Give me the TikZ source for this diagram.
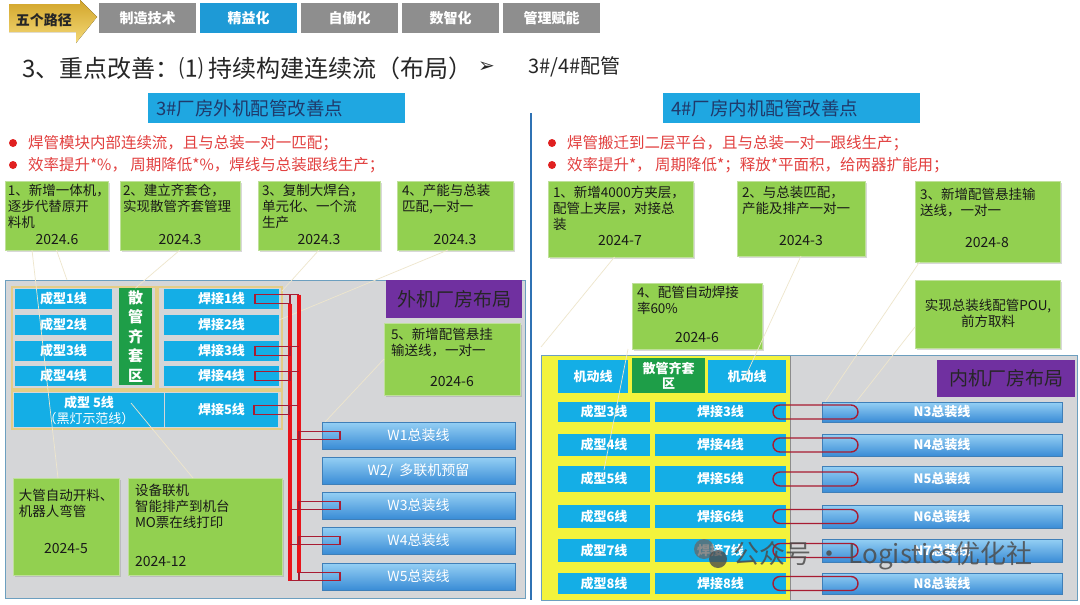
\documentclass[tikz,border=0pt]{standalone}
\usepackage{fontspec}
\setmainfont{Noto Sans CJK SC}
\newfontfamily\dejavu{DejaVu Sans}
\usetikzlibrary{shadows}
\definecolor{tabgray}{HTML}{8E8E8E}
\definecolor{tabblue}{HTML}{1E9AD6}
\definecolor{goldA}{HTML}{D2A52A}
\definecolor{goldB}{HTML}{F4D977}
\definecolor{hdrblue}{HTML}{1FA7E1}
\definecolor{hdrtext}{HTML}{1F3A6B}
\definecolor{bulred}{HTML}{E02020}
\definecolor{bultext}{HTML}{E2403F}
\definecolor{boxgreen}{HTML}{92D050}
\definecolor{greenedge}{HTML}{BFE09A}
\definecolor{framegray}{HTML}{D5D6D8}
\definecolor{frameedge}{HTML}{6C9FBF}
\definecolor{linecyan}{HTML}{14AEE6}
\definecolor{tanc}{HTML}{E4CD86}
\definecolor{sangreen}{HTML}{1E9E48}
\definecolor{purp}{HTML}{7030A0}
\definecolor{wtop}{HTML}{95D0F4}
\definecolor{wbot}{HTML}{3A8CD6}
\definecolor{wedge}{HTML}{3F7FB8}
\definecolor{ybg}{HTML}{F3F33C}
\definecolor{divider}{HTML}{2F72B4}
\definecolor{redline}{HTML}{E8141B}
\definecolor{loopred}{HTML}{A81C32}
\definecolor{callc}{HTML}{EEE6CC}
\definecolor{titlec}{HTML}{262626}
\begin{document}
\begin{tikzpicture}[x=1pt,y=-1pt,
  every node/.style={inner sep=0pt,outer sep=0pt},
  tab/.style={fill=tabgray, text=white, font=\fontsize{14}{14}\selectfont\bfseries, anchor=north west, minimum height=30pt, minimum width=97pt},
  hdr/.style={fill=hdrblue, anchor=north west, minimum height=30pt, minimum width=257pt},
  hdrtxt/.style={text=hdrtext, font=\fontsize{18.5}{18.5}\selectfont, anchor=west},
  bul/.style={circle, fill=bulred, minimum size=8pt},
  bultxt/.style={text=bultext, font=\fontsize{15.5}{15.5}\selectfont, anchor=west},
  gbox/.style={fill=boxgreen, draw=greenedge, line width=0.6pt, anchor=north west, drop shadow={opacity=0.3, shadow xshift=1.5pt, shadow yshift=-1.5pt}},
  gtxt/.style={font=\fontsize{13.5}{16}\selectfont, align=left, anchor=north west, text=black!90},
  gdate/.style={font=\fontsize{14}{14}\selectfont, text=black!90},
  lbox/.style={fill=linecyan, anchor=north west, text=white, font=\fontsize{13}{16}\selectfont\bfseries},
  wbox/.style={top color=wtop, bottom color=wbot, draw=wedge, line width=0.5pt, anchor=north west, text=white, font=\fontsize{14}{14}\selectfont},
  pbox/.style={fill=purp, anchor=north west, font=\fontsize{19}{19}\selectfont, text=black!85},
  callout/.style={draw=callc, line width=0.7pt},
  pipe/.style={draw=redline, line width=3.4pt},
  loopr/.style={draw=loopred, line width=1.9pt},
  paperclip/.style={draw=loopred, line width=1.4pt, rounded corners=7pt}
]
\useasboundingbox[fill=white] (0,0) rectangle (1080,605);

% ---------- top bar
\fill[top color=goldA, bottom color=goldB] (9,4) -- (80,4) -- (80,0) -- (97,17) -- (76,43) -- (76,32) -- (9,32) -- cycle;
\node[font=\fontsize{14}{14}\selectfont\bfseries, text=black!85] (gold) at (44,20) {五个路径};
\node[tab] (t1) at (99,3) {制造技术};
\node[tab, fill=tabblue] (t2) at (200,3) {精益化};
\node[tab] (t3) at (301,3) {自働化};
\node[tab] (t4) at (402,3) {数智化};
\node[tab] (t5) at (503,3) {管理赋能};

% ---------- title
\node[anchor=west, font=\fontsize{24}{24}\selectfont, text=titlec] (title) at (22,68) {3、重点改善：⑴ 持续构建连续流（布局）};
\node[anchor=west, font=\dejavu\fontsize{20}{20}\selectfont, text=titlec] (arrowmk) at (478,67) {➢};
\node[anchor=west, font=\fontsize{20}{20}\selectfont, text=titlec] (title2) at (528,67) {3\#/4\#配管};

% ---------- divider
\draw[divider, line width=2pt] (531,113) -- (531,600);

% ---------- headers
\node[hdr] (headL) at (148,93) {};
\node[hdrtxt] (headLt) at (156,108) {3\#厂房外机配管改善点};
\node[hdr] (headR) at (663,93) {};
\node[hdrtxt] (headRt) at (671,108) {4\#厂房内机配管改善点};

% ---------- bullets
\node[bul] (bL1) at (13,143) {};
\node[bultxt] (bL1t) at (28,143) {焊管模块内部连续流，且与总装一对一匹配；};
\node[bul] (bL2) at (13,165) {};
\node[bultxt] (bL2t) at (28,165) {效率提升*\%， 周期降低*\%，焊线与总装跟线生产；};
\node[bul] (bR1) at (552,143) {};
\node[bultxt] (bR1t) at (567,143) {焊管搬迁到二层平台，且与总装一对一跟线生产；};
\node[bul] (bR2) at (552,165) {};
\node[bultxt] (bR2t) at (567,165) {效率提升*， 周期降低*；释放*平面积，给两器扩能用；};

% ---------- green boxes, upper row
\node[gbox, minimum width=103pt, minimum height=69pt] (gL1) at (5,181) {};
\node[gtxt] (gL1t) at (8,184) {1、新增一体机，\\逐步代替原开\\料机};
\node[gdate] (gL1d) at (57,240) {2024.6};
\node[gbox, minimum width=120pt, minimum height=69pt] (gL2) at (120,181) {};
\node[gtxt] (gL2t) at (123,184) {2、建立齐套仓，\\实现散管齐套管理};
\node[gdate] (gL2d) at (180,240) {2024.3};
\node[gbox, minimum width=122pt, minimum height=69pt] (gL3) at (258,181) {};
\node[gtxt] (gL3t) at (262,184) {3、复制大焊台，\\单元化、一个流\\生产};
\node[gdate] (gL3d) at (319,240) {2024.3};
\node[gbox, minimum width=116pt, minimum height=69pt] (gL4) at (397,181) {};
\node[gtxt] (gL4t) at (402,184) {4、产能与总装\\匹配,一对一};
\node[gdate] (gL4d) at (455,240) {2024.3};

\node[gbox, minimum width=145pt, minimum height=76pt] (gR1) at (548,181) {};
\node[gtxt] (gR1t) at (553,186) {1、新增4000方夹层，\\配管上夹层，对接总\\装};
\node[gdate] (gR1d) at (620,241) {2024-7};
\node[gbox, minimum width=128pt, minimum height=75pt] (gR2) at (737,181) {};
\node[gtxt] (gR2t) at (742,186) {2、与总装匹配，\\产能及排产一对一};
\node[gdate] (gR2d) at (801,241) {2024-3};
\node[gbox, minimum width=145pt, minimum height=81pt] (gR3) at (915,181) {};
\node[gtxt] (gR3t) at (920,188) {3、新增配管悬挂输\\送线，一对一};
\node[gdate] (gR3d) at (987,243) {2024-8};

% ---------- left layout
\node[fill=framegray, draw=frameedge, line width=0.8pt, anchor=north west, minimum width=520pt, minimum height=318pt] (fL) at (5,280) {};
\draw[tanc, line width=2pt] (12,287) rectangle (156,389);
\draw[tanc, line width=2pt] (158,287) rectangle (282,389);
\draw[tanc, line width=2pt] (12,391) rectangle (282,429);
\foreach \i/\y in {1/289,2/315,3/341,4/366} {
  \node[lbox, minimum width=97pt, minimum height=20pt] (cL\i) at (15,\y) {成型\i 线};
  \node[lbox, minimum width=115pt, minimum height=20pt] (hL\i) at (164,\y) {焊接\i 线};
}
\node[fill=sangreen, anchor=north west, minimum width=33pt, minimum height=97pt, text=white, font=\fontsize{15}{19.5}\selectfont\bfseries, align=center] (sanL) at (119,288) {散\\管\\齐\\套\\区};
\node[lbox, minimum width=150pt, minimum height=34pt, align=center] (cL5) at (14,393) {成型 5线\\{\mdseries（黑灯示范线）}};
\node[lbox, minimum width=113pt, minimum height=34pt] (hL5) at (165,393) {焊接5线};
\node[pbox, minimum width=136pt, minimum height=38pt] (pL) at (386,280) {外机厂房布局};
\node[gbox, minimum width=136pt, minimum height=72pt] (gL5) at (384,323) {};
\node[gtxt] (gL5t) at (391,328) {5、新增配管悬挂\\输送线，一对一};
\node[gdate] (gL5d) at (452,382) {2024-6};
\node[wbox, minimum width=193pt, minimum height=27pt] (w1) at (322,422) {W1总装线};
\node[wbox, minimum width=193pt, minimum height=27pt] (w2) at (322,457) {W2/\ \ 多联机预留};
\node[wbox, minimum width=193pt, minimum height=27pt] (w3) at (322,492) {W3总装线};
\node[wbox, minimum width=193pt, minimum height=27pt] (w4) at (322,527) {W4总装线};
\node[wbox, minimum width=193pt, minimum height=27pt] (w5) at (322,563) {W5总装线};
\node[gbox, minimum width=106pt, minimum height=97pt] (gL6) at (13,478) {};
\node[gtxt] (gL6t) at (19,489) {大管自动开料、\\机器人弯管};
\node[gdate] (gL6d) at (66,549) {2024-5};
\node[gbox, minimum width=154pt, minimum height=97pt] (gL7) at (128,478) {};
\node[gtxt] (gL7t) at (135,484) {设备联机\\智能排产到机台\\MO票在线打印};
\node[gdate, anchor=west] (gL7d) at (135,562) {2024-12};

% ---------- right layout
\node[anchor=north west, minimum width=536pt, minimum height=245pt] (fR) at (541,355) {};
\fill[ybg] (fR.north west) rectangle ([xshift=249pt]fR.south west);
\fill[framegray] ([xshift=249pt]fR.north west) rectangle (fR.south east);
\draw[black!45, line width=0.6pt] ([xshift=249pt]fR.north west) -- ([xshift=249pt]fR.south west);
\draw[frameedge, line width=0.8pt] (fR.north west) rectangle (fR.south east);
\node[gbox, minimum width=130pt, minimum height=66pt] (gR4) at (632,283) {};
\node[gtxt] (gR4t) at (637,286) {4、配管自动焊接\\率60\%};
\node[gdate] (gR4d) at (697,338) {2024-6};
\node[gbox, minimum width=145pt, minimum height=68pt] (gR5) at (915,280) {};
\node[gtxt, align=center, anchor=center] (gR5t) at (988,313) {实现总装线配管POU,\\前方取料};
\node[lbox, minimum width=70pt, minimum height=33pt] (jd1) at (558,360) {机动线};
\node[fill=sangreen, anchor=north west, minimum width=73pt, minimum height=35pt, text=white, font=\fontsize{13}{15}\selectfont\bfseries, align=center] (sanR) at (632,358) {散管齐套\\区};
\node[lbox, minimum width=78pt, minimum height=33pt] (jd2) at (708,360) {机动线};
\node[pbox, minimum width=138pt, minimum height=37pt] (pR) at (937,360) {内机厂房布局};
\foreach \i/\y/\h in {3/402/20,4/434/22,5/466/26,6/505/23,7/539/23,8/573/21} {
  \node[lbox, minimum width=92pt, minimum height=\h pt] (rc\i) at (558,\y) {成型\i 线};
  \node[lbox, minimum width=131pt, minimum height=\h pt] (rh\i) at (655,\y) {焊接\i 线};
  \node[wbox, font=\fontsize{13}{13}\selectfont\bfseries, minimum width=240pt, minimum height=\h pt] (rn\i) at (822,\y) {N\i 总装线};
}

% ---------- callout lines
\draw[callout] ([xshift=-24.5pt]gL1.south) -- ([xshift=-8pt]gL6.north);
\draw[callout] (gL1.south) -- ([xshift=62pt]fL.north west);
\draw[callout] (gL2.south) -- (sanL.north);
\draw[callout] (gL3.south) -- ([xshift=3pt,yshift=8pt]hL1.east);
\draw[callout] ([xshift=-7pt]gL4.south) -- ([yshift=5pt]hL2.east);
\draw[callout] (gL5.west) -- ([xshift=3pt]w1.north west);
\draw[callout] ([xshift=42pt,yshift=7pt]cL5.center) -- ([xshift=-12pt]gL7.north);
\draw[callout] ([xshift=-6pt]gR1.south) -- ([yshift=8pt]fR.north west);
\draw[callout] ([xshift=-4pt]gR4.south west) -- ([yshift=9pt]rc5.center);
\draw[callout] (gR2.south) -- ([xshift=-3pt,yshift=-3pt]jd2.center);
\draw[callout] ([xshift=-68pt]gR3.south) -- ([xshift=3pt]rn3.north west);
\draw[callout] ([yshift=-13pt]gR5.west) -- ([xshift=34pt]rn3.north west);

% ---------- left red pipes
\coordinate (pA) at (299,0);
\coordinate (pB) at (290,0);
\draw[pipe] ([yshift=4.5pt]pA |- hL1.east) -- ([yshift=4pt]pA |- w5.west);
\draw[pipe] ([yshift=-4.5pt]pB |- hL1.east) -- ([yshift=-4pt]pB |- w5.west);
\foreach \n in {hL1,hL3,hL4,hL5} {
  \draw[loopr] ([xshift=-24pt]\n.east) ++(0,-4.5) rectangle ++(35,9);
  \draw[loopr] ([xshift=-24pt]\n.east) ++(35,-4.5) -- ++(9,0);
}
\foreach \n in {w1,w3,w4,w5} {
  \draw[loopr] ([xshift=-23pt]\n.west) ++(0,-4) rectangle ++(41,8);
  \draw[loopr] ([xshift=-23pt]\n.west) ++(0,4) -- ++(-9,0);
}

% ---------- right paper clips
\foreach \i in {3,4,5,6,7,8} {
  \draw[paperclip] ([xshift=-13pt,yshift=7pt]rh\i.east) rectangle ([xshift=36pt,yshift=-7pt]rn\i.west);
}

% ---------- watermark
\fill[black!60, opacity=0.75] (704,549) circle (10);
\fill[black!70, opacity=0.8] (718,559) circle (9);
\node[anchor=west, font=\fontsize{26}{26}\selectfont, text=black!70, opacity=0.85] (wm) at (733,556) {公众号 · Logistics优化社};
\end{tikzpicture}
\end{document}
